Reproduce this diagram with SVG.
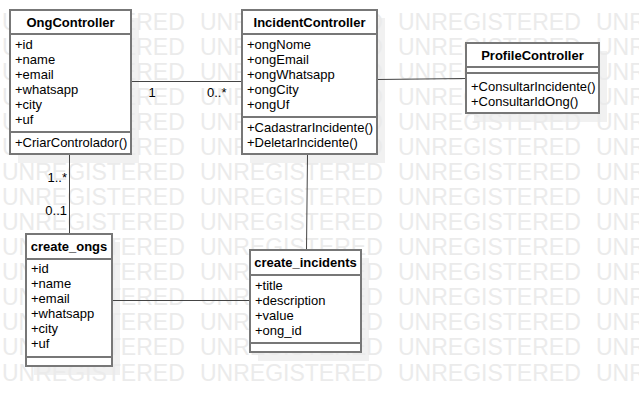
<svg xmlns="http://www.w3.org/2000/svg" xmlns:xlink="http://www.w3.org/1999/xlink" width="639" height="406" viewBox="0 0 639 406">
<style>
.wm{font-family:"Liberation Sans",Arial,sans-serif;font-size:23px;fill:#ebebeb}
.box{fill:#fff;stroke:#777;stroke-width:2}
.sep{stroke:#777;stroke-width:2}
.sh{fill:#f1f1f1}
.t{font-family:"Liberation Sans",Arial,sans-serif;font-size:13px;font-weight:bold;fill:#000;text-anchor:middle}
.m{font-family:"Liberation Sans",Arial,sans-serif;font-size:13px;fill:#000}
.c{stroke:#444;stroke-width:1;fill:none}
</style>
<defs>
<g id="wmrow">
<text class="wm" x="2" y="0">UNREGISTERED</text>
<text class="wm" x="200" y="0">UNREGISTERED</text>
<text class="wm" x="398" y="0">UNREGISTERED</text>
<text class="wm" x="596" y="0">UNREGISTERED</text>
</g>
</defs>
<rect width="639" height="406" fill="#fff"/>
<g id="shadows">
<rect class="sh" x="18" y="18" width="121" height="145"/>
<rect class="sh" x="250" y="18" width="135" height="145"/>
<rect class="sh" x="474" y="51" width="133" height="71"/>
<rect class="sh" x="34" y="242" width="86" height="133"/>
<rect class="sh" x="258" y="258" width="111" height="103"/>
</g>
<g id="watermark">
<use xlink:href="#wmrow" y="30"/>
<use xlink:href="#wmrow" y="55"/>
<use xlink:href="#wmrow" y="80"/>
<use xlink:href="#wmrow" y="105"/>
<use xlink:href="#wmrow" y="130"/>
<use xlink:href="#wmrow" y="155"/>
<use xlink:href="#wmrow" y="180"/>
<use xlink:href="#wmrow" y="205"/>
<use xlink:href="#wmrow" y="230"/>
<use xlink:href="#wmrow" y="255"/>
<use xlink:href="#wmrow" y="280"/>
<use xlink:href="#wmrow" y="305"/>
<use xlink:href="#wmrow" y="330"/>
<use xlink:href="#wmrow" y="355"/>
<use xlink:href="#wmrow" y="381"/>
</g>
<g id="connectors">
<line class="c" x1="131" y1="81.5" x2="242" y2="81.5"/>
<line class="c" x1="377" y1="79.5" x2="466" y2="78.5"/>
<line class="c" x1="69.5" y1="154" x2="69.5" y2="234"/>
<line class="c" x1="112" y1="300.5" x2="250" y2="300.5"/>
<line class="c" x1="307.5" y1="154" x2="306.5" y2="250"/>
<text class="m" x="152" y="97" text-anchor="middle">1</text>
<text class="m" x="207" y="97">0..*</text>
<text class="m" x="67" y="182" text-anchor="end">1..*</text>
<text class="m" x="67" y="215" text-anchor="end">0..1</text>
</g>
<g id="OngController">
<rect class="box" x="10" y="10" width="121" height="144"/>
<line class="sep" x1="10" y1="34" x2="131" y2="34"/>
<line class="sep" x1="10" y1="132" x2="131" y2="132"/>
<text class="t" x="70.5" y="27">OngController</text>
<text class="m" x="15" y="49">+id</text>
<text class="m" x="15" y="64">+name</text>
<text class="m" x="15" y="79">+email</text>
<text class="m" x="15" y="94">+whatsapp</text>
<text class="m" x="15" y="109">+city</text>
<text class="m" x="15" y="124">+uf</text>
<text class="m" x="15" y="147">+CriarControlador()</text>
</g>
<g id="IncidentController">
<rect class="box" x="242" y="10" width="135" height="144"/>
<line class="sep" x1="242" y1="34" x2="377" y2="34"/>
<line class="sep" x1="242" y1="117" x2="377" y2="117"/>
<text class="t" x="309.5" y="27">IncidentController</text>
<text class="m" x="247" y="49">+ongNome</text>
<text class="m" x="247" y="64">+ongEmail</text>
<text class="m" x="247" y="79">+ongWhatsapp</text>
<text class="m" x="247" y="94">+ongCity</text>
<text class="m" x="247" y="109">+ongUf</text>
<text class="m" x="247" y="132">+CadastrarIncidente()</text>
<text class="m" x="247" y="147">+DeletarIncidente()</text>
</g>
<g id="ProfileController">
<rect class="box" x="466" y="43" width="133" height="70"/>
<line class="sep" x1="466" y1="67" x2="599" y2="67"/>
<line class="sep" x1="466" y1="73" x2="599" y2="73"/>
<text class="t" x="532.5" y="60">ProfileController</text>
<text class="m" x="471" y="91">+ConsultarIncidente()</text>
<text class="m" x="471" y="106">+ConsultarIdOng()</text>
</g>
<g id="create_ongs">
<rect class="box" x="26" y="234" width="86" height="132"/>
<line class="sep" x1="26" y1="259" x2="112" y2="259"/>
<line class="sep" x1="26" y1="357" x2="112" y2="357"/>
<text class="t" x="69" y="251">create_ongs</text>
<text class="m" x="31" y="273">+id</text>
<text class="m" x="31" y="288">+name</text>
<text class="m" x="31" y="303">+email</text>
<text class="m" x="31" y="318">+whatsapp</text>
<text class="m" x="31" y="333">+city</text>
<text class="m" x="31" y="348">+uf</text>
</g>
<g id="create_incidents">
<rect class="box" x="250" y="250" width="111" height="102"/>
<line class="sep" x1="250" y1="275" x2="361" y2="275"/>
<line class="sep" x1="250" y1="343" x2="361" y2="343"/>
<text class="t" x="305.5" y="267">create_incidents</text>
<text class="m" x="255" y="290">+title</text>
<text class="m" x="255" y="305">+description</text>
<text class="m" x="255" y="320">+value</text>
<text class="m" x="255" y="335">+ong_id</text>
</g>
</svg>
